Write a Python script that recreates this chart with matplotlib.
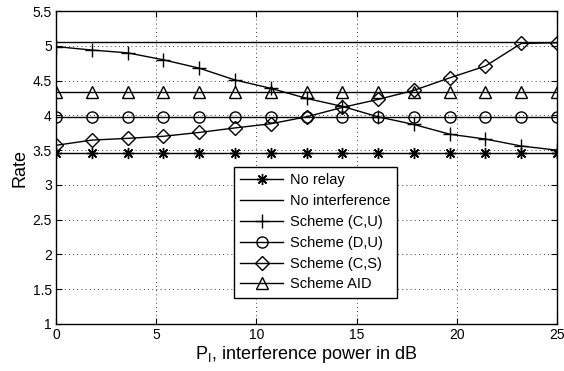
import numpy as np
import matplotlib
matplotlib.use("Agg")
import matplotlib.pyplot as plt

plt.rcParams["font.family"] = ["Liberation Sans", "DejaVu Sans"]
plt.rcParams["mathtext.fontset"] = "custom"
plt.rcParams["mathtext.rm"] = "Liberation Sans"

# puissance d'interference (dB), 15 points
p_i = [0, 1.786, 3.571, 5.357, 7.143, 8.929, 10.714, 12.5,
       14.286, 16.071, 17.857, 19.643, 21.429, 23.214, 25]

no_relay = [3.46] * 15
no_interf = [5.05] * 15
scheme_cu = [4.99, 4.94, 4.90, 4.80, 4.68, 4.51, 4.39, 4.245,
             4.13, 3.98, 3.87, 3.73, 3.66, 3.56, 3.50]
scheme_du = [3.98] * 15
scheme_cs = [3.57, 3.645, 3.67, 3.70, 3.755, 3.82, 3.88, 3.98,
             4.115, 4.23, 4.36, 4.54, 4.71, 5.035, 5.045]
scheme_aid = [4.34] * 15

fig = plt.figure(figsize=(5.64, 3.71), dpi=100)
ax = fig.add_axes([0.0993, 0.1267, 0.8883, 0.8433])

kw = dict(color="black", lw=1.0, mfc="none", mec="black", mew=1.0)
ax.plot(p_i, no_relay, marker=(8, 2, 0), ms=8, label="No relay", **kw)
ax.plot(p_i, no_interf, label="No interference", **kw)
ax.plot(p_i, scheme_cu, marker="+", ms=10, label="Scheme (C,U)", **kw)
ax.plot(p_i, scheme_du, marker="o", ms=8, label="Scheme (D,U)", **kw)
ax.plot(p_i, scheme_cs, marker="D", ms=7, label="Scheme (C,S)", **kw)
ax.plot(p_i, scheme_aid, marker="^", ms=9, label="Scheme AID", **kw)

ax.set_xlim(0, 25)
ax.set_ylim(1, 5.5)
ax.set_xticks(np.arange(0, 26, 5))
ax.set_yticks(np.arange(1, 5.51, 0.5))
ax.set_yticklabels(["1", "1.5", "2", "2.5", "3", "3.5", "4", "4.5", "5", "5.5"])
ax.grid(True, ls=(0, (1, 4)), color="black", lw=0.6)
ax.tick_params(direction="in", top=True, right=True, labelsize=10, length=4, pad=3)
for s in ax.spines.values():
    s.set_linewidth(1.0)

ax.set_xlabel(r"P$_\mathregular{I}$, interference power in dB", fontsize=13, labelpad=1)
ax.set_ylabel("Rate", fontsize=13, labelpad=3)

leg = ax.legend(loc="lower left", bbox_to_anchor=(0.355, 0.083), fontsize=10.5,
                handlelength=2.9, fancybox=False, edgecolor="black",
                framealpha=1, borderpad=0.45, labelspacing=0.47,
                handletextpad=0.5, borderaxespad=0)
leg.get_frame().set_linewidth(1.0)

fig.savefig("out.png", dpi=100)
